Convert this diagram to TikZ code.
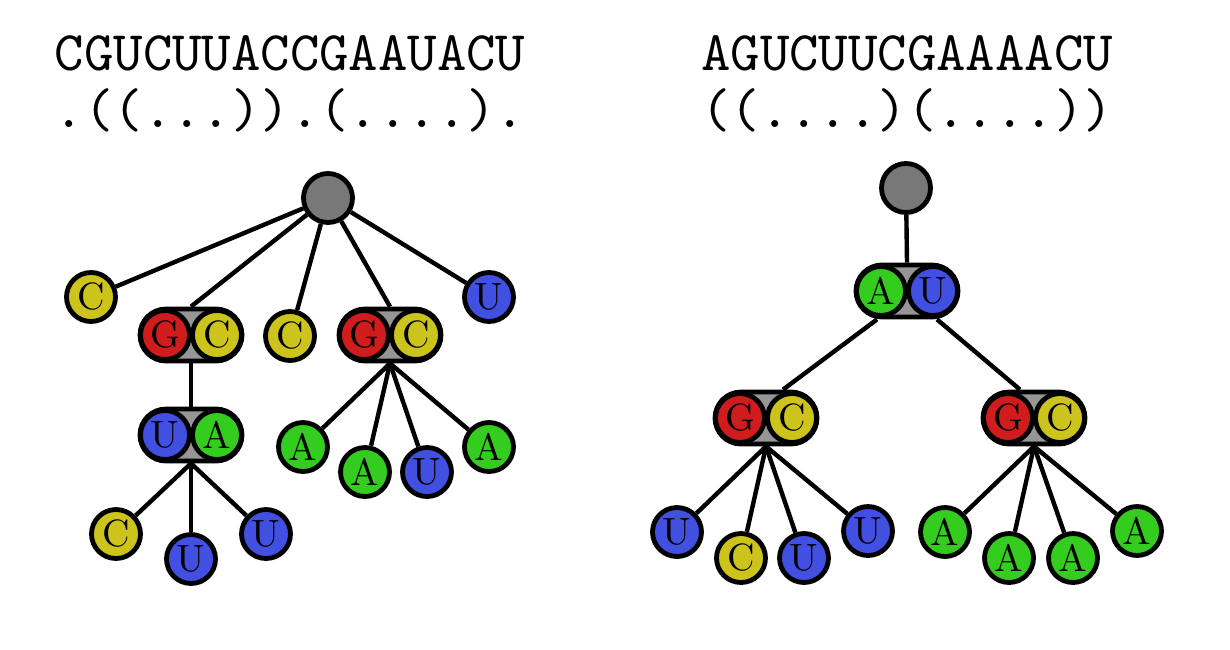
\documentclass[tikz,border=0pt]{standalone}
\usepackage{fontspec}
\usepackage{tikz}

\newfontfamily\nucfont{lmroman10-regular}[Extension=.otf]
\newfontfamily\seqfont{lmmono10-regular}[Extension=.otf]

\definecolor{nucG}{RGB}{208,28,28}
\definecolor{nucC}{RGB}{204,196,28}
\definecolor{nucU}{RGB}{66,80,226}
\definecolor{nucA}{RGB}{52,204,30}
\definecolor{rootgray}{RGB}{120,120,120}
\definecolor{pairgray}{RGB}{150,150,150}

\begin{document}
\begin{tikzpicture}[x=0.5pt,y=-0.5pt,
    every circle node/.style={circle, draw, line width=2.4pt, inner sep=0pt, minimum size=24.5pt, font=\nucfont\fontsize{19}{19}\selectfont},
    inpair/.style={minimum size=23.5pt},
    basepair/.style={rectangle, draw, line width=2.4pt, rounded corners=13pt, fill=pairgray, minimum width=51pt, minimum height=26pt, inner sep=0pt},
    seq/.style={anchor=base, font=\seqfont\fontsize{28}{28}\selectfont},
    link/.style={line width=2.2pt}]
    \useasboundingbox (0,0) rectangle (1230,649);

    % left structure
    \node[seq] (seqL) at (290,70) {CGUCUUACCGAAUACU};
    \node[seq] (dbL) at (290,127) {.((...)).(....).};
    \node[circle, fill=rootgray, minimum size=25pt] (rootL) at (328,198) {};
    \node[circle, fill=nucC] (l1) at (91,297) {C};
    \node[basepair] (gc1) at (191,335) {};
    \node[circle, inpair, fill=nucG] (gc1a) at ([xshift=-13pt]gc1) {G};
    \node[circle, inpair, fill=nucC] (gc1b) at ([xshift=13pt]gc1) {C};
    \node[circle, fill=nucC] (l2) at (290,336) {C};
    \node[basepair] (gc2) at (390,335) {};
    \node[circle, inpair, fill=nucG] (gc2a) at ([xshift=-13pt]gc2) {G};
    \node[circle, inpair, fill=nucC] (gc2b) at ([xshift=13pt]gc2) {C};
    \node[circle, fill=nucU] (l3) at (489,297) {U};
    \node[basepair] (ua1) at (191,435) {};
    \node[circle, inpair, fill=nucU] (ua1a) at ([xshift=-13pt]ua1) {U};
    \node[circle, inpair, fill=nucA] (ua1b) at ([xshift=13pt]ua1) {A};
    \node[circle, fill=nucC] (l4) at (116,534) {C};
    \node[circle, fill=nucU] (l5) at (191,559) {U};
    \node[circle, fill=nucU] (l6) at (266,534) {U};
    \node[circle, fill=nucA] (l7) at (303,447) {A};
    \node[circle, fill=nucA] (l8) at (365,472) {A};
    \node[circle, fill=nucU] (l9) at (427,472) {U};
    \node[circle, fill=nucA] (l10) at (489,447) {A};

    \draw[link] (rootL) -- (l1);
    \draw[link] (rootL) -- (gc1.north);
    \draw[link] (rootL) -- (l2);
    \draw[link] (rootL) -- (gc2.north);
    \draw[link] (rootL) -- (l3);
    \draw[link] (gc1.south) -- (ua1.north);
    \draw[link] (ua1.south) -- (l4);
    \draw[link] (ua1.south) -- (l5);
    \draw[link] (ua1.south) -- (l6);
    \draw[link] (gc2.south) -- (l7);
    \draw[link] (gc2.south) -- (l8);
    \draw[link] (gc2.south) -- (l9);
    \draw[link] (gc2.south) -- (l10);

    % right structure
    \node[seq] (seqR) at (907,70) {AGUCUUCGAAAACU};
    \node[seq] (dbR) at (907,127) {((....)(....))};
    \node[circle, fill=rootgray, minimum size=25pt] (rootR) at (906,188) {};
    \node[basepair] (au1) at (907,291) {};
    \node[circle, inpair, fill=nucA] (au1a) at ([xshift=-13pt]au1) {A};
    \node[circle, inpair, fill=nucU] (au1b) at ([xshift=13pt]au1) {U};
    \node[basepair] (gc3) at (766,418) {};
    \node[circle, inpair, fill=nucG] (gc3a) at ([xshift=-13pt]gc3) {G};
    \node[circle, inpair, fill=nucC] (gc3b) at ([xshift=13pt]gc3) {C};
    \node[basepair] (gc4) at (1034,418) {};
    \node[circle, inpair, fill=nucG] (gc4a) at ([xshift=-13pt]gc4) {G};
    \node[circle, inpair, fill=nucC] (gc4b) at ([xshift=13pt]gc4) {C};
    \node[circle, fill=nucU] (r1) at (677,532) {U};
    \node[circle, fill=nucC] (r2) at (741,558) {C};
    \node[circle, fill=nucU] (r3) at (804,558) {U};
    \node[circle, fill=nucU] (r4) at (868,531) {U};
    \node[circle, fill=nucA] (r5) at (945,532) {A};
    \node[circle, fill=nucA] (r6) at (1009,558) {A};
    \node[circle, fill=nucA] (r7) at (1073,558) {A};
    \node[circle, fill=nucA] (r8) at (1137,531) {A};

    \draw[link] (rootR) -- (au1.north);
    \draw[link] ([xshift=-15pt]au1.south) -- ([xshift=8.5pt]gc3.north);
    \draw[link] ([xshift=15pt]au1.south) -- ([xshift=-7pt]gc4.north);
    \draw[link] (gc3.south) -- (r1);
    \draw[link] (gc3.south) -- (r2);
    \draw[link] (gc3.south) -- (r3);
    \draw[link] (gc3.south) -- (r4);
    \draw[link] (gc4.south) -- (r5);
    \draw[link] (gc4.south) -- (r6);
    \draw[link] (gc4.south) -- (r7);
    \draw[link] (gc4.south) -- (r8);
\end{tikzpicture}
\end{document}
